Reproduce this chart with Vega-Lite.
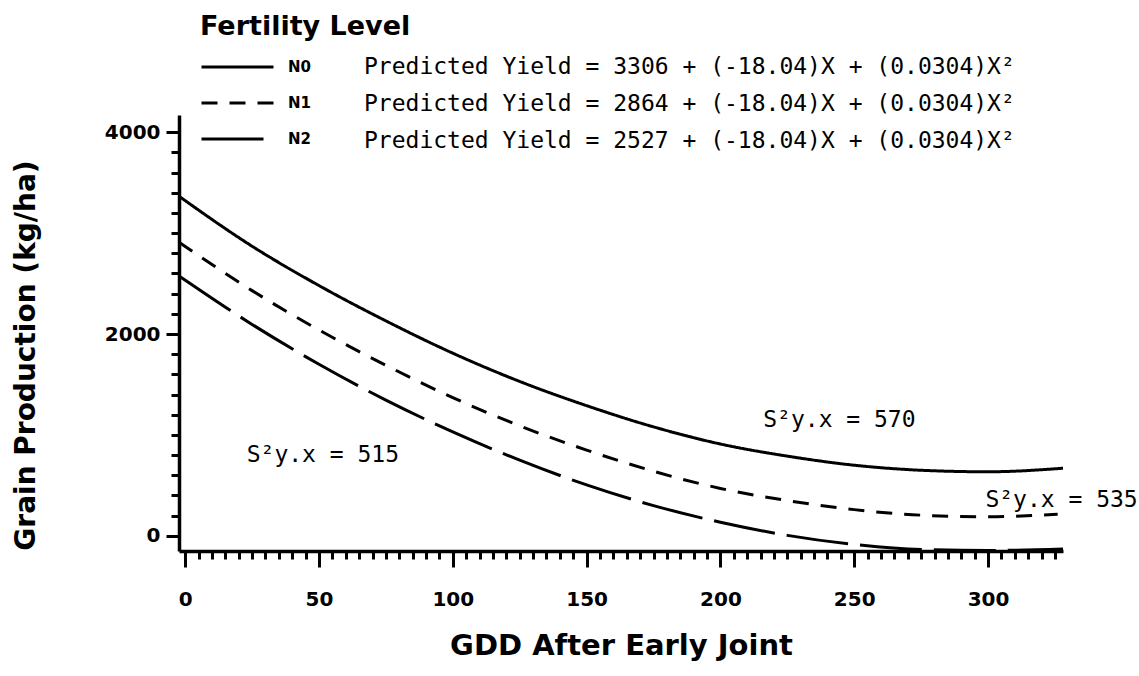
{
  "$schema": "https://vega.github.io/schema/vega-lite/v6.json",
  "width": 884,
  "height": 436,
  "autosize": {"type": "none"},
  "padding": {"left": 179, "top": 115, "right": 76, "bottom": 125},
  "background": "white",
  "config": {"view": {"stroke": null}, "axis": {"grid": false}},
  "encoding": {
    "x": {
      "field": "gdd", "type": "quantitative", "title": "GDD After Early Joint",
      "scale": {"domain": [-2.3, 328], "nice": false, "zero": false},
      "axis": {
        "values": [0,5,10,15,20,25,30,35,40,45,50,55,60,65,70,75,80,85,90,95,100,105,110,115,120,125,130,135,140,145,150,155,160,165,170,175,180,185,190,195,200,205,210,215,220,225,230,235,240,245,250,255,260,265,270,275,280,285,290,295,300,305,310,315,320,325],
        "format": "d",
        "labelExpr": "datum.value % 50 === 0 ? datum.label : ''",
        "labelOverlap": false, "labelFlush": false,
        "labelFont": "DejaVu Sans", "labelFontWeight": "bold", "labelFontSize": 20, "labelColor": "black",
        "labelPadding": 22,
        "tickSize": {"condition": {"test": "datum.value % 50 === 0", "value": 16}, "value": 8},
        "tickWidth": 3, "tickColor": "black",
        "domainWidth": 3.5, "domainColor": "black",
        "titleFont": "DejaVu Sans", "titleFontWeight": "bold", "titleFontSize": 29, "titleColor": "black",
        "titlePadding": 22
      }
    },
    "y": {
      "field": "yield", "type": "quantitative", "title": "Grain Production (kg/ha)",
      "scale": {"domain": [-150, 4170], "nice": false, "zero": false},
      "axis": {
        "values": [0,200,400,600,800,1000,1200,1400,1600,1800,2000,2200,2400,2600,2800,3000,3200,3400,3600,3800,4000],
        "format": "d",
        "labelExpr": "datum.value % 2000 === 0 ? datum.label : ''",
        "labelOverlap": false, "labelFlush": false,
        "labelFont": "DejaVu Sans", "labelFontWeight": "bold", "labelFontSize": 20, "labelColor": "black",
        "labelPadding": 6,
        "tickSize": {"condition": {"test": "datum.value % 2000 === 0", "value": 13}, "value": 8},
        "tickWidth": 3, "tickColor": "black",
        "domainWidth": 3.5, "domainColor": "black",
        "titleFont": "DejaVu Sans", "titleFontWeight": "bold", "titleFontSize": 28, "titleColor": "black",
        "titlePadding": 64, "titleY": 240
      }
    }
  },
  "layer": [
    {
      "data": {
        "values": [
          {"level": "N0", "gdd": -2.3, "yield": 3365}, {"level": "N0", "gdd": 25, "yield": 2870}, {"level": "N0", "gdd": 50, "yield": 2480}, {"level": "N0", "gdd": 75, "yield": 2130}, {"level": "N0", "gdd": 100, "yield": 1810}, {"level": "N0", "gdd": 125, "yield": 1530}, {"level": "N0", "gdd": 150, "yield": 1290}, {"level": "N0", "gdd": 175, "yield": 1080}, {"level": "N0", "gdd": 200, "yield": 910}, {"level": "N0", "gdd": 225, "yield": 790}, {"level": "N0", "gdd": 250, "yield": 700}, {"level": "N0", "gdd": 275, "yield": 650}, {"level": "N0", "gdd": 300, "yield": 635}, {"level": "N0", "gdd": 328, "yield": 670},
          {"level": "N1", "gdd": -2.3, "yield": 2910}, {"level": "N1", "gdd": 25, "yield": 2430}, {"level": "N1", "gdd": 50, "yield": 2040}, {"level": "N1", "gdd": 75, "yield": 1690}, {"level": "N1", "gdd": 100, "yield": 1370}, {"level": "N1", "gdd": 125, "yield": 1090}, {"level": "N1", "gdd": 150, "yield": 850}, {"level": "N1", "gdd": 175, "yield": 640}, {"level": "N1", "gdd": 200, "yield": 470}, {"level": "N1", "gdd": 225, "yield": 350}, {"level": "N1", "gdd": 250, "yield": 260}, {"level": "N1", "gdd": 275, "yield": 205}, {"level": "N1", "gdd": 300, "yield": 190}, {"level": "N1", "gdd": 326, "yield": 215},
          {"level": "N2", "gdd": -2.3, "yield": 2575}, {"level": "N2", "gdd": 25, "yield": 2095}, {"level": "N2", "gdd": 50, "yield": 1700}, {"level": "N2", "gdd": 75, "yield": 1345}, {"level": "N2", "gdd": 100, "yield": 1030}, {"level": "N2", "gdd": 125, "yield": 750}, {"level": "N2", "gdd": 150, "yield": 505}, {"level": "N2", "gdd": 175, "yield": 300}, {"level": "N2", "gdd": 200, "yield": 135}, {"level": "N2", "gdd": 225, "yield": 5}, {"level": "N2", "gdd": 250, "yield": -85}, {"level": "N2", "gdd": 275, "yield": -135}, {"level": "N2", "gdd": 300, "yield": -145}, {"level": "N2", "gdd": 328, "yield": -130}
        ]
      },
      "transform": [
        {"lookup": "level", "from": {"data": {"values": [
          {"level": "N0", "formula": "Predicted Yield = 3306 + (-18.04)X + (0.0304)X²"},
          {"level": "N1", "formula": "Predicted Yield = 2864 + (-18.04)X + (0.0304)X²"},
          {"level": "N2", "formula": "Predicted Yield = 2527 + (-18.04)X + (0.0304)X²"}
        ]}, "key": "level", "fields": ["formula"]}}
      ],
      "mark": {"type": "line", "strokeWidth": 3, "interpolate": "monotone", "strokeCap": "butt"},
      "encoding": {
        "strokeDash": {
          "field": "level", "type": "nominal",
          "scale": {"domain": ["N0", "N1", "N2"], "range": [[1, 0], [16, 12], [62, 12]]},
          "legend": {
            "orient": "none", "legendX": 21, "legendY": -101, "padding": 0,
            "title": "Fertility Level", "titleFont": "DejaVu Sans", "titleFontWeight": "bold", "titleFontSize": 27, "titleColor": "black", "titleBaseline": "top", "titlePadding": 18, "titleLimit": 1000,
            "symbolType": "stroke", "symbolSize": 5184, "symbolStrokeWidth": 3, "symbolStrokeColor": "black",
            "clipHeight": 16,
            "labelFont": "DejaVu Sans", "labelFontWeight": "bold", "labelFontSize": 15, "labelColor": "black", "labelOffset": 13,
            "rowPadding": 20
          }
        },
        "color": {
          "field": "formula", "type": "nominal",
          "scale": {"domain": ["Predicted Yield = 3306 + (-18.04)X + (0.0304)X²", "Predicted Yield = 2864 + (-18.04)X + (0.0304)X²", "Predicted Yield = 2527 + (-18.04)X + (0.0304)X²"], "range": ["black", "black", "black"]},
          "legend": {
            "orient": "none", "legendX": 162, "legendY": -60, "padding": 0, "title": null,
            "symbolOpacity": 0, "symbolSize": 1, "symbolStrokeWidth": 0,
            "labelFont": "DejaVu Sans Mono", "labelFontSize": 23, "labelColor": "black", "labelOffset": 0, "labelLimit": 2000,
            "rowPadding": 13
          }
        }
      }
    },
    {
      "data": {
        "values": [
          {"gdd": 23, "yield": 733, "label": "S²y.x = 515"},
          {"gdd": 216, "yield": 1080, "label": "S²y.x = 570"},
          {"gdd": 299, "yield": 287, "label": "S²y.x = 535"}
        ]
      },
      "mark": {"type": "text", "align": "left", "baseline": "alphabetic", "font": "DejaVu Sans Mono", "fontSize": 23, "fill": "black", "clip": false},
      "encoding": {"text": {"field": "label", "type": "nominal"}}
    }
  ]
}
